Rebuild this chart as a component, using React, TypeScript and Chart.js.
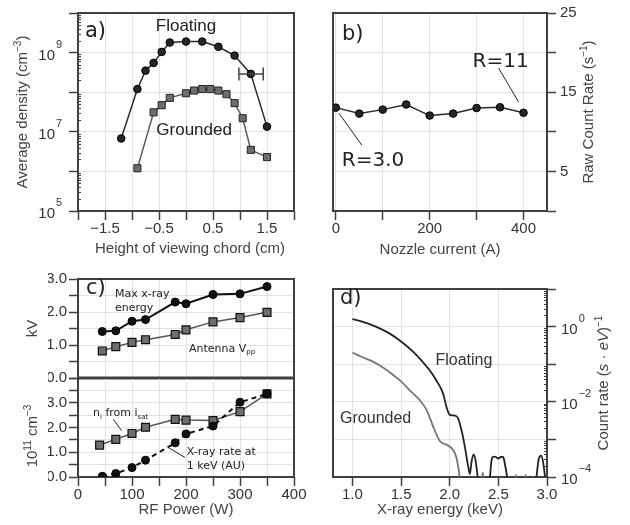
import React, { useEffect, useRef } from 'react';
import { Chart, registerables } from 'chart.js';
Chart.register(...registerables);

const SANS = '"Liberation Sans", Arial, sans-serif';
const DEJ = '"DejaVu Sans", sans-serif';
const AXIS = '#404040';
const GRID = '#e2e2e2';
const TXT = '#333333';
Chart.defaults.font.family = SANS;

// ---------- Panel a: density vs chord height ----------
const chordFloating = [-1.2, -0.9, -0.75, -0.6, -0.45, -0.3, 0, 0.3, 0.6, 0.9, 1.2, 1.5];
const densityFloating = [6.8e6, 1.2e8, 3.5e8, 5.5e8, 1.04e9, 1.8e9, 1.9e9, 1.9e9, 1.4e9, 8.4e8, 2.9e8, 1.35e7];
const chordGrounded = [-0.9, -0.6, -0.45, -0.3, 0, 0.15, 0.3, 0.45, 0.6, 0.75, 0.9, 1.05, 1.2, 1.5];
const densityGrounded = [1.2e6, 3.1e7, 4.7e7, 7.2e7, 9.4e7, 1.1e8, 1.2e8, 1.2e8, 1.1e8, 8.9e7, 5.3e7, 2.2e7, 3.5e6, 2.3e6];
const errorBarX = [0.98, 1.43];
const errorBarY = 2.9e8;
const aXTicks = [-2, -1.5, -1, -0.5, 0, 0.5, 1, 1.5, 2];
const aXLabels = [-1.5, -0.5, 0.5, 1.5];
const aYDecades = [5, 6, 7, 8, 9, 10];
const aYLabelExps = [5, 7, 9];

// ---------- Panel b: count rate vs nozzle current ----------
const nozzleCurrent = [0, 50, 100, 150, 200, 250, 300, 350, 400];
const rawCountRate = [13.05, 12.3, 12.8, 13.45, 12.05, 12.3, 13.0, 13.1, 12.4];
const bXTicks = [0, 100, 200, 300, 400];
const bXLabels = [0, 200, 400];
const bYTicks = [0, 5, 10, 15, 20, 25];
const bYLabels = [5, 15, 25];

// ---------- Panel c: vs RF power ----------
const rfPowerEnergy = [45, 70, 100, 125, 180, 200, 250, 300, 350];
const maxXrayEnergy = [1.41, 1.43, 1.72, 1.77, 2.3, 2.25, 2.53, 2.55, 2.77];
const rfPowerVpp = [45, 70, 100, 125, 180, 200, 250, 300, 350];
const antennaVpp = [0.82, 0.95, 1.08, 1.16, 1.32, 1.46, 1.7, 1.83, 1.99];
const rfPowerIon = [40, 70, 100, 125, 180, 200, 250, 300, 350];
const ionDensity = [1.29, 1.52, 1.76, 2.01, 2.33, 2.3, 2.28, 2.64, 3.36];
const rfPowerRate = [45, 70, 100, 125, 180, 200, 250, 300, 350];
const xrayRate1keV = [0.03, 0.14, 0.38, 0.68, 1.38, 1.74, 2.06, 3.02, 3.36];
const cXTicks = [0, 50, 100, 150, 200, 250, 300, 350, 400];
const cXLabels = [0, 100, 200, 300, 400];
const cTopYTicks = [0, 0.5, 1, 1.5, 2, 2.5, 3];
const cTopYLabels = [0, 1, 2, 3];
const cBotYTicks = [0, 0.5, 1, 1.5, 2, 2.5, 3, 3.5, 4];
const cBotYLabels = [0, 1, 2, 3];

// ---------- Panel d: spectra ----------
const energyFloating = [1.0, 1.1, 1.24, 1.38, 1.5, 1.62, 1.72, 1.79, 1.86, 1.93, 1.97, 2.0, 2.05, 2.085, 2.12, 2.155, 2.18, 2.2, 2.207, 2.225, 2.245, 2.265, 2.285, 2.3, 2.35, 2.4, 2.415, 2.43, 2.45, 2.475, 2.5, 2.525, 2.55, 2.57, 2.59, 2.605, 2.7, 2.87, 2.895, 2.915, 2.94, 2.96, 2.98, 3.0];
const rateFloating = [1.58, 1.35, 1.0, 0.66, 0.4, 0.22, 0.117, 0.071, 0.038, 0.017, 0.0068, 0.0045, 0.0043, 0.0037, 0.0018, 6.5e-4, 2.6e-4, 1.4e-4, 1.2e-4, 2.6e-4, 4.0e-4, 2.8e-4, 1.1e-4, 4e-5, 3e-5, 4e-5, 1.1e-4, 2.8e-4, 3.5e-4, 3.4e-4, 3.1e-4, 3.4e-4, 3.4e-4, 2.0e-4, 1.0e-4, 4e-5, 3e-5, 3e-5, 1.2e-4, 3.0e-4, 3.7e-4, 2.5e-4, 1.0e-4, 4e-5];
const energyGrounded = [1.0, 1.1, 1.21, 1.31, 1.41, 1.5, 1.59, 1.69, 1.76, 1.83, 1.9, 1.97, 2.03, 2.07, 2.1, 2.12, 2.31, 2.34, 2.37, 2.66, 2.68, 2.7, 2.76, 2.78, 2.8];
const rateGrounded = [0.204, 0.155, 0.117, 0.083, 0.054, 0.035, 0.02, 0.0112, 0.0062, 0.0022, 8.9e-4, 7.2e-4, 5.4e-4, 3.2e-4, 1.05e-4, 3e-5, 3e-5, 1.3e-4, 3e-5, 3e-5, 1.15e-4, 3e-5, 3e-5, 1.15e-4, 3e-5];
const dXTicks = [1, 1.5, 2, 2.5, 3];
const dYDecades = [-4, -3, -2, -1, 0, 1];
const dYLabelExps = [-4, -2, 0];

type Part = { t: string; s?: 'sub' | 'sup'; i?: boolean };

const zip = (xs: number[], ys: number[]) => xs.map((x, i) => ({ x, y: ys[i] }));
const minus = (v: number, d: number) => (v < 0 ? '\u2212' + Math.abs(v).toFixed(d) : v.toFixed(d));

function drawRich(ctx: CanvasRenderingContext2D, parts: Part[], x: number, y: number, size: number, family: string, color: string, align: 'left' | 'center' | 'right' = 'left', rotate = 0) {
  ctx.save();
  ctx.translate(x, y);
  if (rotate) ctx.rotate(rotate);
  ctx.fillStyle = color;
  ctx.textAlign = 'left';
  ctx.textBaseline = 'alphabetic';
  const fontFor = (p: Part) => `${p.i ? 'italic ' : ''}${p.s ? Math.round(size * 0.66) : size}px ${family}`;
  let w = 0;
  parts.forEach((p) => { ctx.font = fontFor(p); w += ctx.measureText(p.t).width; });
  let cx = align === 'center' ? -w / 2 : align === 'right' ? -w : 0;
  const base = size * 0.36;
  parts.forEach((p) => {
    ctx.font = fontFor(p);
    const dy = p.s === 'sup' ? -size * 0.42 : p.s === 'sub' ? size * 0.25 : 0;
    ctx.fillText(p.t, cx, base + dy);
    cx += ctx.measureText(p.t).width;
  });
  ctx.restore();
}

function logLabel(ctx: CanvasRenderingContext2D, exp: number, x: number, y: number, side: 'left' | 'right') {
  ctx.save();
  ctx.fillStyle = TXT;
  ctx.textBaseline = 'middle';
  ctx.textAlign = 'left';
  ctx.font = `15px ${SANS}`;
  const wb = ctx.measureText('10').width;
  const bx = side === 'left' ? x - wb : x;
  ctx.fillText('10', bx, y + 3);
  ctx.font = `11px ${SANS}`;
  ctx.fillText(exp < 0 ? '\u2212' + -exp : String(exp), bx + wb + 1, y - 8);
  ctx.restore();
}

function minorLog(ctx: CanvasRenderingContext2D, scale: any, xEdge: number, dir: number, decades: number[]) {
  ctx.save();
  ctx.strokeStyle = AXIS;
  ctx.lineWidth = 1;
  ctx.beginPath();
  for (let k = 0; k < decades.length - 1; k++) {
    for (let m = 2; m <= 9; m++) {
      const py = Math.round(scale.getPixelForValue(m * Math.pow(10, decades[k]))) + 0.5;
      ctx.moveTo(xEdge, py);
      ctx.lineTo(xEdge + dir * 3, py);
    }
  }
  ctx.stroke();
  ctx.restore();
}

function drawBox(chart: any, lw = 2) {
  const { ctx, chartArea: ca } = chart;
  ctx.save();
  ctx.strokeStyle = AXIS;
  ctx.lineWidth = lw;
  ctx.strokeRect(ca.left, ca.top, ca.right - ca.left, ca.bottom - ca.top);
  ctx.restore();
}

function seg(chart: any, x0: number, y0: number, x1: number, y1: number, color = '#222', lw = 1) {
  const { ctx, scales } = chart;
  ctx.save();
  ctx.strokeStyle = color;
  ctx.lineWidth = lw;
  ctx.beginPath();
  ctx.moveTo(scales.x.getPixelForValue(x0), scales.y.getPixelForValue(y0));
  ctx.lineTo(scales.x.getPixelForValue(x1), scales.y.getPixelForValue(y1));
  ctx.stroke();
  ctx.restore();
}

function at(chart: any, x: number, y: number): [number, number] {
  return [chart.scales.x.getPixelForValue(x), chart.scales.y.getPixelForValue(y)];
}

function axis(o: any) {
  const { type = 'linear', position, min, max, tickValues, labelValues = [], fmt = (v: number) => String(v), size, tickLen = 9, showLabels = true, drawTicks = true, padding = 0 } = o;
  return {
    type, position, min, max,
    afterBuildTicks: (s: any) => { s.ticks = tickValues.map((v: number) => ({ value: v })); },
    afterFit: (s: any) => {
      if (s.isHorizontal()) s.height = size; else s.width = size;
      s.paddingLeft = 0; s.paddingRight = 0; s.paddingTop = 0; s.paddingBottom = 0;
    },
    border: { display: false },
    grid: { color: GRID, lineWidth: 1, drawTicks, tickLength: tickLen, tickColor: AXIS, tickWidth: 1.5 },
    ticks: {
      display: showLabels, autoSkip: false, maxRotation: 0, minRotation: 0, padding, color: TXT,
      font: { family: SANS, size: 15 },
      callback: (v: any) => (labelValues.some((l: number) => Math.abs(l - v) < 1e-9) ? fmt(v) : ''),
    },
  };
}

const baseOpts = (padding: any) => ({
  animation: false as const,
  responsive: false,
  events: [] as any[],
  layout: { padding, autoPadding: false },
  plugins: { legend: { display: false }, tooltip: { enabled: false } },
});

function configA(): any {
  return {
    type: 'scatter',
    data: {
      datasets: [
        { data: zip(chordFloating, densityFloating), showLine: true, borderColor: '#2a2a2a', borderWidth: 1.5, pointStyle: 'circle', pointRadius: 3.8, pointBackgroundColor: '#262626', pointBorderColor: '#000', pointBorderWidth: 1 },
        { data: zip(chordGrounded, densityGrounded), showLine: true, borderColor: '#5c5c5c', borderWidth: 1.5, pointStyle: 'rect', pointRadius: 5, pointBackgroundColor: '#6e6e6e', pointBorderColor: '#222', pointBorderWidth: 1 },
      ],
    },
    options: {
      ...baseOpts({ left: 48, right: 336, top: 13, bottom: 284 }),
      scales: {
        x: axis({ position: 'bottom', min: -2, max: 2, tickValues: aXTicks, labelValues: aXLabels, fmt: (v: number) => minus(v, 1), size: 30 }),
        y: axis({ type: 'logarithmic', position: 'left', min: 1e5, max: 1e10, tickValues: aYDecades.map((e) => Math.pow(10, e)), showLabels: false, size: 30 }),
      },
    },
    plugins: [{
      id: 'decorA',
      beforeDatasetsDraw(chart: any) { drawBox(chart); },
      afterDatasetsDraw(chart: any) {
        const { ctx, chartArea: ca, scales } = chart;
        minorLog(ctx, scales.y, ca.left, 1, aYDecades);
        aYLabelExps.forEach((e) => logLabel(ctx, e, ca.left - 23, scales.y.getPixelForValue(Math.pow(10, e)), 'left'));
        const [x0, yy] = at(chart, errorBarX[0], errorBarY);
        const [x1] = at(chart, errorBarX[1], errorBarY);
        ctx.save();
        ctx.strokeStyle = '#444';
        ctx.lineWidth = 1.5;
        ctx.beginPath();
        ctx.moveTo(x0, yy); ctx.lineTo(x1, yy);
        ctx.moveTo(x0, yy - 6.5); ctx.lineTo(x0, yy + 6.5);
        ctx.moveTo(x1, yy - 6.5); ctx.lineTo(x1, yy + 6.5);
        ctx.stroke();
        ctx.restore();
        drawRich(ctx, [{ t: 'a)' }], ca.left + 7, ca.top + 16, 21, DEJ, '#222');
        const [fx, fy] = at(chart, 0, 5e9);
        drawRich(ctx, [{ t: 'Floating' }], fx, fy, 17, SANS, '#222', 'center');
        const [gx, gy] = at(chart, 0.15, 1.2e7);
        drawRich(ctx, [{ t: 'Grounded' }], gx, gy, 17, SANS, '#222', 'center');
        drawRich(ctx, [{ t: 'Average density (cm' }, { t: '\u22123', s: 'sup' }, { t: ')' }], 22, (ca.top + ca.bottom) / 2, 15, SANS, '#444', 'center', -Math.PI / 2);
        drawRich(ctx, [{ t: 'Height of viewing chord (cm)' }], 190, 248, 15, SANS, '#444', 'center');
      },
    }],
  };
}

function configB(): any {
  return {
    type: 'scatter',
    data: {
      datasets: [
        { data: zip(nozzleCurrent, rawCountRate), showLine: true, borderColor: '#2a2a2a', borderWidth: 1.5, pointStyle: 'circle', pointRadius: 3.8, pointBackgroundColor: '#262626', pointBorderColor: '#000', pointBorderWidth: 1 },
      ],
    },
    options: {
      ...baseOpts({ left: 333, right: 53, top: 13, bottom: 284 }),
      scales: {
        x: axis({ position: 'bottom', min: -6, max: 450, tickValues: bXTicks, labelValues: bXLabels, size: 30 }),
        y: axis({ position: 'right', min: 0, max: 25, tickValues: bYTicks, labelValues: bYLabels, size: 30, padding: 4 }),
      },
    },
    plugins: [{
      id: 'decorB',
      beforeDatasetsDraw(chart: any) { drawBox(chart); },
      afterDatasetsDraw(chart: any) {
        const { ctx, chartArea: ca } = chart;
        drawRich(ctx, [{ t: 'b)' }], ca.left + 9, ca.top + 19, 21, DEJ, '#222');
        seg(chart, 6.4, 12.37, 55.3, 8.33);
        seg(chart, 346.8, 18.06, 389.4, 13.76);
        const [r3x, r3y] = at(chart, 12.8, 6.57);
        drawRich(ctx, [{ t: 'R=3.0' }], r3x, r3y, 20, DEJ, '#222');
        const [r11x, r11y] = at(chart, 291.5, 19.07);
        drawRich(ctx, [{ t: 'R=11' }], r11x, r11y, 20, DEJ, '#222');
        drawRich(ctx, [{ t: 'Nozzle current (A)' }], 440, 249, 15, SANS, '#444', 'center');
        drawRich(ctx, [{ t: 'Raw Count Rate (s' }, { t: '\u22121', s: 'sup' }, { t: ')' }], 588, (ca.top + ca.bottom) / 2, 15, SANS, '#444', 'center', -Math.PI / 2);
      },
    }],
  };
}

function configCTop(): any {
  return {
    type: 'scatter',
    data: {
      datasets: [
        { data: zip(rfPowerEnergy, maxXrayEnergy), showLine: true, borderColor: '#111', borderWidth: 2, pointStyle: 'circle', pointRadius: 4, pointBackgroundColor: '#111', pointBorderColor: '#000', pointBorderWidth: 1 },
        { data: zip(rfPowerVpp, antennaVpp), showLine: true, borderColor: '#555', borderWidth: 1.5, pointStyle: 'rect', pointRadius: 5.6, pointBackgroundColor: '#6e6e6e', pointBorderColor: '#111', pointBorderWidth: 1.2 },
      ],
    },
    options: {
      ...baseOpts({ left: 48, right: 336, top: 279, bottom: 147 }),
      scales: {
        x: axis({ position: 'bottom', min: 0, max: 400, tickValues: cXTicks, showLabels: false, drawTicks: false, size: 0 }),
        y: axis({ position: 'left', min: 0, max: 3, tickValues: cTopYTicks, labelValues: cTopYLabels, fmt: (v: number) => v.toFixed(1), size: 30, padding: 2 }),
      },
    },
    plugins: [{
      id: 'decorCTop',
      beforeDatasetsDraw(chart: any) {
        drawBox(chart);
        const { ctx, chartArea: ca } = chart;
        ctx.save();
        ctx.strokeStyle = AXIS;
        ctx.lineWidth = 3;
        ctx.beginPath();
        ctx.moveTo(ca.left, ca.bottom); ctx.lineTo(ca.right, ca.bottom);
        ctx.stroke();
        ctx.restore();
      },
      afterDatasetsDraw(chart: any) {
        const { ctx, chartArea: ca } = chart;
        drawRich(ctx, [{ t: 'c)' }], ca.left + 8, ca.top + 7, 21, DEJ, '#222');
        const [mx, my] = at(chart, 68.5, 2.58);
        drawRich(ctx, [{ t: 'Max x-ray' }], mx, my, 11, DEJ, '#222');
        const [ex, ey] = at(chart, 68.5, 2.15);
        drawRich(ctx, [{ t: 'energy' }], ex, ey, 11, DEJ, '#222');
        const [ax, ay] = at(chart, 205.5, 0.92);
        drawRich(ctx, [{ t: 'Antenna V' }, { t: 'pp', s: 'sub' }], ax, ay, 11, DEJ, '#222');
        drawRich(ctx, [{ t: 'kV' }], 32, (ca.top + ca.bottom) / 2, 15, SANS, '#444', 'center', -Math.PI / 2);
      },
    }],
  };
}

function configCBot(): any {
  return {
    type: 'scatter',
    data: {
      datasets: [
        { data: zip(rfPowerRate, xrayRate1keV), showLine: true, borderColor: '#111', borderWidth: 2, borderDash: [5, 4], pointStyle: 'circle', pointRadius: 4, pointBackgroundColor: '#111', pointBorderColor: '#000', pointBorderWidth: 1 },
        { data: zip(rfPowerIon, ionDensity), showLine: true, borderColor: '#555', borderWidth: 1.5, pointStyle: 'rect', pointRadius: 5.6, pointBackgroundColor: '#6e6e6e', pointBorderColor: '#111', pointBorderWidth: 1.2 },
      ],
    },
    options: {
      ...baseOpts({ left: 48, right: 336, top: 378, bottom: 18 }),
      scales: {
        x: axis({ position: 'bottom', min: 0, max: 400, tickValues: cXTicks, labelValues: cXLabels, size: 30 }),
        y: axis({ position: 'left', min: 0, max: 4, tickValues: cBotYTicks, labelValues: cBotYLabels, fmt: (v: number) => v.toFixed(1), size: 30, padding: 2 }),
      },
    },
    plugins: [{
      id: 'decorCBot',
      beforeDatasetsDraw(chart: any) { drawBox(chart); },
      afterDatasetsDraw(chart: any) {
        const { ctx, chartArea: ca } = chart;
        const [nx, ny] = at(chart, 27.8, 2.63);
        drawRich(ctx, [{ t: 'n' }, { t: 'i', s: 'sub' }, { t: ' from i' }, { t: 'sat', s: 'sub' }], nx, ny, 11, DEJ, '#222');
        seg(chart, 65.4, 2.33, 80.9, 1.87);
        seg(chart, 167.2, 1.19, 198, 0.79);
        const [xx, xy] = at(chart, 201.3, 1.04);
        drawRich(ctx, [{ t: 'X-ray rate at' }], xx, xy, 11, DEJ, '#222');
        const [kx, ky] = at(chart, 201.3, 0.48);
        drawRich(ctx, [{ t: '1 keV (AU)' }], kx, ky, 11, DEJ, '#222');
        drawRich(ctx, [{ t: '10' }, { t: '11', s: 'sup' }, { t: ' cm' }, { t: '\u22123', s: 'sup' }], 32, 436, 15, SANS, '#444', 'center', -Math.PI / 2);
        drawRich(ctx, [{ t: 'RF Power (W)' }], (ca.left + ca.right) / 2, 509, 15, SANS, '#444', 'center');
      },
    }],
  };
}

function configD(): any {
  return {
    type: 'scatter',
    data: {
      datasets: [
        { data: zip(energyFloating, rateFloating), showLine: true, borderColor: '#222', borderWidth: 1.8, pointRadius: 0, cubicInterpolationMode: 'monotone', clip: 0 },
        { data: zip(energyGrounded, rateGrounded), showLine: true, borderColor: '#777', borderWidth: 1.8, pointRadius: 0, cubicInterpolationMode: 'monotone', clip: 0 },
      ],
    },
    options: {
      ...baseOpts({ left: 333, right: 53, top: 289, bottom: 18 }),
      scales: {
        x: axis({ position: 'bottom', min: 0.8, max: 3.0, tickValues: dXTicks, labelValues: dXTicks, fmt: (v: number) => v.toFixed(1), size: 30 }),
        y: axis({ type: 'logarithmic', position: 'right', min: 1e-4, max: 10, tickValues: dYDecades.map((e) => Math.pow(10, e)), showLabels: false, size: 30 }),
      },
    },
    plugins: [{
      id: 'decorD',
      beforeDatasetsDraw(chart: any) { drawBox(chart); },
      afterDatasetsDraw(chart: any) {
        const { ctx, chartArea: ca, scales } = chart;
        minorLog(ctx, scales.y, ca.right, -1, dYDecades);
        dYLabelExps.forEach((e) => logLabel(ctx, e, ca.right + 14, scales.y.getPixelForValue(Math.pow(10, e)), 'right'));
        drawRich(ctx, [{ t: 'd)' }], ca.left + 7, ca.top + 7, 21, DEJ, '#222');
        const [fx, fy] = at(chart, 1.853, Math.pow(10, -0.88));
        drawRich(ctx, [{ t: 'Floating' }], fx, fy, 16, SANS, '#333');
        const [gx, gy] = at(chart, 0.873, Math.pow(10, -2.4));
        drawRich(ctx, [{ t: 'Grounded' }], gx, gy, 16, SANS, '#333');
        drawRich(ctx, [{ t: 'X-ray energy (keV)' }], (ca.left + ca.right) / 2, 509, 15, SANS, '#444', 'center');
        drawRich(ctx, [{ t: 'Count rate (' }, { t: 's \u00b7 eV', i: true }, { t: ')' }, { t: '\u22121', s: 'sup' }], 603, (ca.top + ca.bottom) / 2, 15, SANS, '#444', 'center', -Math.PI / 2);
      },
    }],
  };
}

export default function App() {
  const r1 = useRef<HTMLCanvasElement>(null);
  const r2 = useRef<HTMLCanvasElement>(null);
  const r3 = useRef<HTMLCanvasElement>(null);
  const r4 = useRef<HTMLCanvasElement>(null);
  const r5 = useRef<HTMLCanvasElement>(null);
  useEffect(() => {
    const charts = [
      new Chart(r1.current as HTMLCanvasElement, configA()),
      new Chart(r2.current as HTMLCanvasElement, configB()),
      new Chart(r3.current as HTMLCanvasElement, configCTop()),
      new Chart(r4.current as HTMLCanvasElement, configCBot()),
      new Chart(r5.current as HTMLCanvasElement, configD()),
    ];
    return () => charts.forEach((c) => c.destroy());
  }, []);
  const cs: React.CSSProperties = { position: 'absolute', left: 0, top: 0, width: 630, height: 525 };
  return (
    <div style={{ position: 'absolute', left: 0, top: 0, width: 630, height: 525, background: '#fff', overflow: 'hidden' }}>
      <canvas ref={r1} width={630} height={525} style={cs} />
      <canvas ref={r2} width={630} height={525} style={cs} />
      <canvas ref={r3} width={630} height={525} style={cs} />
      <canvas ref={r4} width={630} height={525} style={cs} />
      <canvas ref={r5} width={630} height={525} style={cs} />
    </div>
  );
}
